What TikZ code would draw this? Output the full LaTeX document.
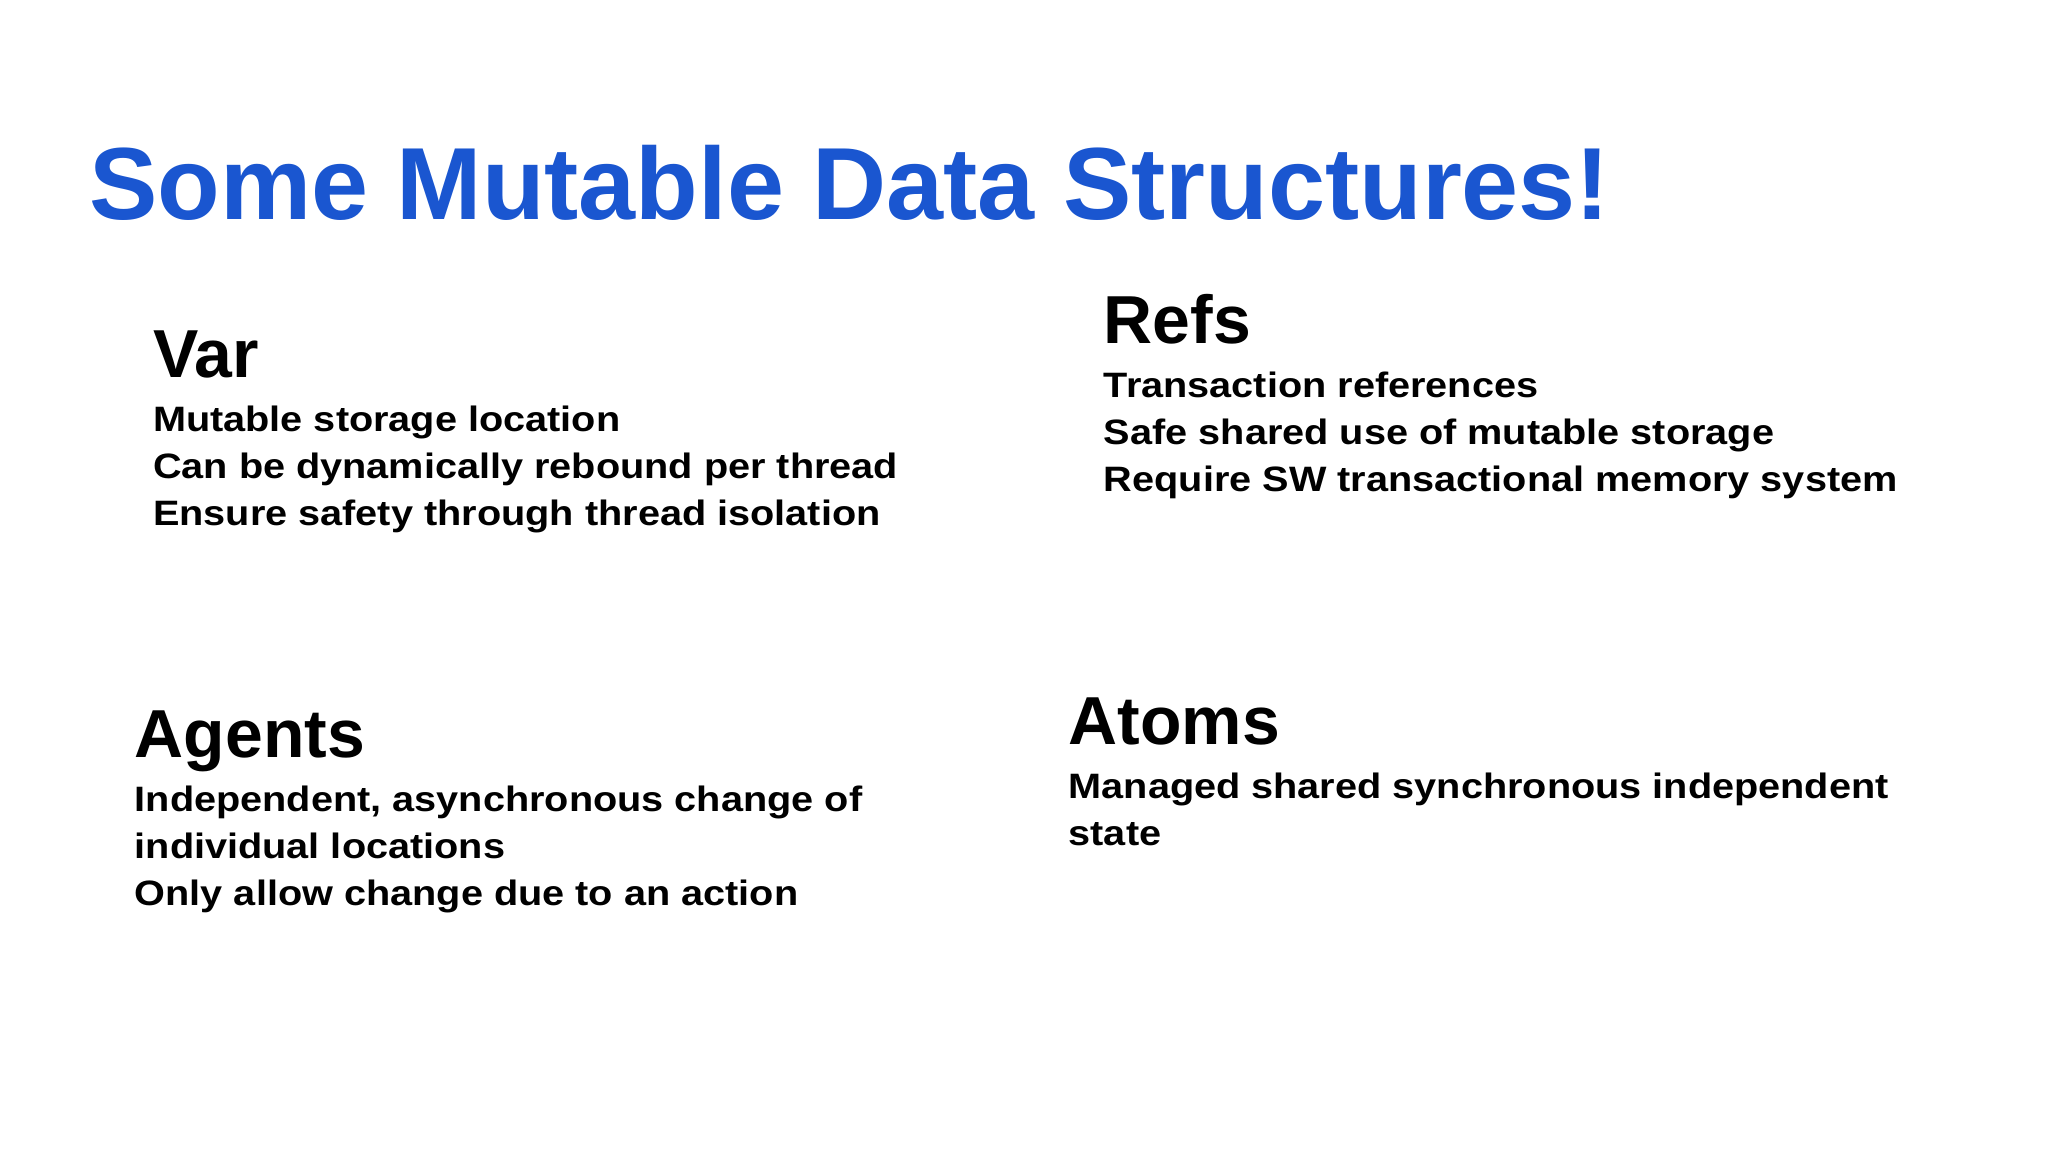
\documentclass[tikz,border=0pt]{standalone}
\usepackage{fontspec}
\setmainfont{Liberation Sans}
\newfontfamily\bodyfont[FakeStretch=1.125]{Liberation Sans}
\definecolor{titleblue}{HTML}{1A56D0}
\begin{document}
\begin{tikzpicture}[x=1pt,y=-1pt,
  txt/.style={anchor=base west,inner sep=0pt,font=\bodyfont\bfseries\fontsize{27}{32}\selectfont},
  head/.style={anchor=base west,inner sep=0pt,font=\bfseries\fontsize{52}{60}\selectfont},
  ttl/.style={anchor=base west,inner sep=0pt,text=titleblue,font=\bfseries\fontsize{78.5}{90}\selectfont}]
\useasboundingbox (0,0) rectangle (1568,882);
\node[ttl] (title) at (68,168) {Some Mutable Data Structures!};
\node[head] (var) at (117,289) {Var};
\node[txt] (v1) at (117,330) {Mutable storage location};
\node[txt] (v2) at (117,366) {Can be dynamically rebound per thread};
\node[txt] (v3) at (117,402) {Ensure safety through thread isolation};
\node[head] (refs) at (845,263) {Refs};
\node[txt] (r1) at (845,304) {Transaction references};
\node[txt] (r2) at (845,340) {Safe shared use of mutable storage};
\node[txt] (r3) at (845,376) {Require SW transactional memory system};
\node[head] (agents) at (103,580) {Agents};
\node[txt] (a1) at (103,621) {Independent, asynchronous change of};
\node[txt] (a2) at (103,657) {individual locations};
\node[txt] (a3) at (103,693) {Only allow change due to an action};
\node[head] (atoms) at (818,570) {Atoms};
\node[txt] (t1) at (818,611) {Managed shared synchronous independent};
\node[txt] (t2) at (818,647) {state};
\end{tikzpicture}
\end{document}
